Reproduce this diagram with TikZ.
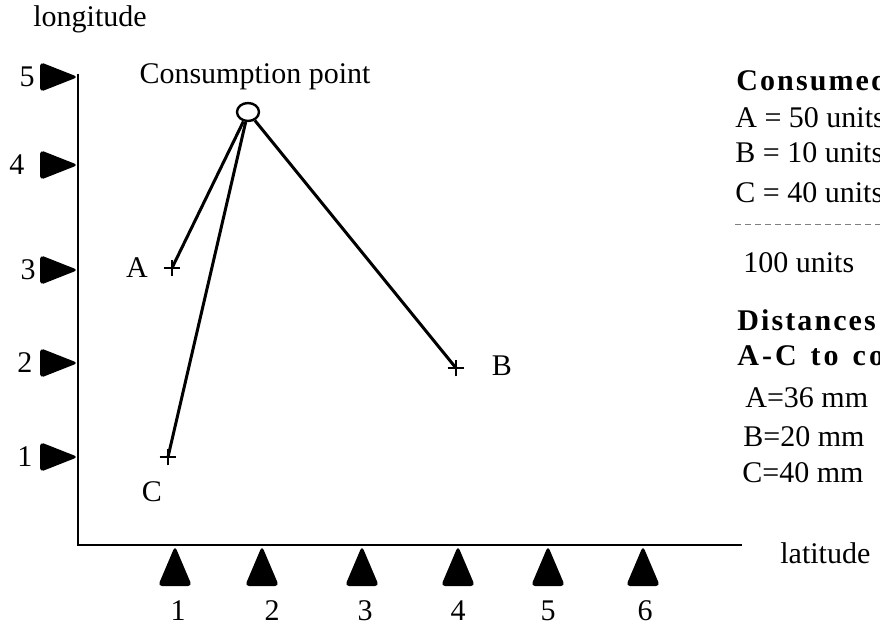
\documentclass[tikz,border=0pt]{standalone}
\usepackage{fontspec}
\setmainfont{Liberation Serif}
\usetikzlibrary{shapes.geometric,shapes.misc}

\begin{document}
\begin{tikzpicture}[x=0.5pt,y=-0.5pt,
  font=\fontsize{15}{18}\selectfont,
  lbl/.style={inner sep=0pt,anchor=west},
  num/.style={inner sep=0pt},
  site/.style={cross out,draw,rotate=45,minimum size=5pt,inner sep=0pt,line width=1pt},
  link/.style={line width=1.5pt},
  axis/.style={line width=1.3pt},
  head/.style={lbl,font=\fontsize{15}{18}\selectfont\bfseries\addfontfeature{LetterSpace=7}},
]
\useasboundingbox (0,0) rectangle (880,631);

% axes
\coordinate (o) at (78,545);
\coordinate (ytop) at (78,74);
\coordinate (xend) at (742,545);
\draw[axis] (ytop) -- (o) -- (xend);
\node[lbl] (ylabel) at (33,19) {longitude};
\node[lbl] (xlabel) at (780,553) {latitude};

% tick marks
\foreach \y/\lx/\n in {77/27/5,165/17/4,270/28/3,363/25/2,457/25/1} {
  \fill[rounded corners=2pt] (78,\y) -- (40,\y-15) -- (40,\y+15) -- cycle;
  \node[num] (ynum\n) at (\lx,\y) {\n};
}
\foreach \x/\lx/\n in {175/178/1,262/272/2,362/365/3,458/458/4,548/548/5,643/645/6} {
  \fill[rounded corners=2pt] (\x,546) -- (\x+17,586) -- (\x-17,586) -- cycle;
  \node[num] (xnum\n) at (\lx,611) {\n};
}

% sites and consumption point
\node[draw,ellipse,line width=1.2pt,minimum width=11pt,minimum height=9pt,inner sep=0pt] (cp) at (248,112) {};
\node (cplabel) at (255,77) {Consumption point};
\node[site] (A) at (172,268) {};
\node[site] (B) at (456,368) {};
\node[site] (C) at (168,457) {};
\node (Alabel) at (137,268) {A};
\node (Blabel) at (502,366) {B};
\node (Clabel) at (152,492) {C};
\draw[link] (cp) -- (A.center);
\draw[link] (cp) -- (C.center);
\draw[link] (cp) -- (B.center);

% legend on the right, cut by the page edge
\begin{scope}
\clip (700,0) rectangle (880,631);
\node[head] (cons) at (736,80) {Consumed units};
\node[lbl] (qa) at (735,118) {A = 50 units};
\node[lbl] (qb) at (735,153) {B = 10 units};
\node[lbl] (qc) at (735,193) {C = 40 units};
\coordinate (rulel) at (735,225);
\coordinate (ruler) at (880,225);
\draw[gray,densely dashed,line width=0.5pt] (rulel) -- (ruler);
\node[lbl] (qsum) at (743,263) {100 units};
\node[head] (dist) at (737,320) {Distances};
\node[head,font=\fontsize{15}{18}\selectfont\bfseries\addfontfeature{LetterSpace=10}] (dac) at (737,358) {A-C\hspace{7pt}to\hspace{7pt}consumption point};
\node[lbl] (da) at (745,398) {A=36 mm};
\node[lbl] (db) at (743,437) {B=20 mm};
\node[lbl] (dc) at (742,473) {C=40 mm};
\end{scope}
\end{tikzpicture}
\end{document}
